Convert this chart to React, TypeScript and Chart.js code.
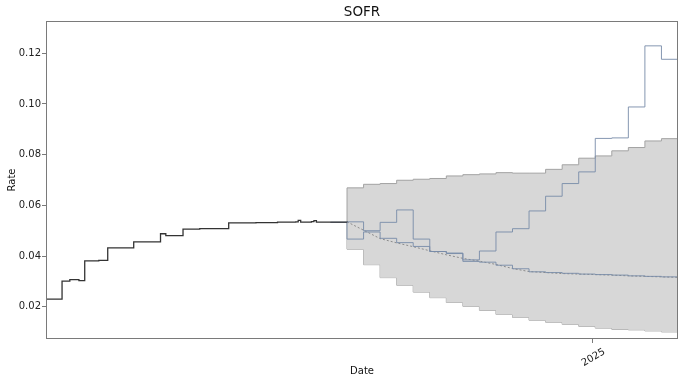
import React, { useEffect, useRef } from 'react';
import { Chart, registerables } from 'chart.js';

Chart.register(...registerables);

// x unit: months relative to the start of the forecast
const X_MIN = -18.19;
const X_MAX = 20;
const X_TICK_VALUES = [14.83];
const X_TICK_LABELS = ['2025'];
const Y_MIN = 0.0073;
const Y_MAX = 0.1327;
const Y_TICK_VALUES = [0.02, 0.04, 0.06, 0.08, 0.1, 0.12];

// historical SOFR (step changes)
const histMonths = [-18.19, -17.22, -16.75, -16.2, -15.85, -15.0, -14.46, -12.89, -11.27, -10.95, -9.91, -8.9, -7.15, -5.5, -4.2, -3.1, -2.95, -2.8, -2.15, -2.0, -1.85, 0];
const histRates = [0.023, 0.0301, 0.0307, 0.0303, 0.0381, 0.0383, 0.0432, 0.0456, 0.0488, 0.0481, 0.0506, 0.0508, 0.0531, 0.0532, 0.0534, 0.0535, 0.0541, 0.0534, 0.0536, 0.054, 0.0534, 0.0533];

// forecast: monthly segments
const forecastMonths = [0, 1, 2, 3, 4, 5, 6, 7, 8, 9, 10, 11, 12, 13, 14, 15, 16, 17, 18, 19, 20];
const bandUpper = [0.0669, 0.0683, 0.0686, 0.0699, 0.0703, 0.0706, 0.0716, 0.0721, 0.0724, 0.0729, 0.0727, 0.0727, 0.0742, 0.076, 0.0786, 0.0795, 0.0815, 0.0828, 0.0854, 0.0863];
const bandLower = [0.0427, 0.0366, 0.0315, 0.0285, 0.0258, 0.0236, 0.0217, 0.0202, 0.0186, 0.017, 0.0158, 0.0147, 0.0139, 0.0131, 0.0123, 0.0116, 0.0111, 0.0109, 0.0105, 0.0101];
const meanRates = [0.0535, 0.0502, 0.0469, 0.0452, 0.0437, 0.0421, 0.0405, 0.0391, 0.038, 0.0367, 0.0351, 0.0339, 0.0335, 0.0331, 0.0329, 0.0327, 0.0325, 0.0322, 0.032, 0.0318, 0.0316];
const pathHigh = [0.0535, 0.05, 0.0533, 0.0582, 0.0467, 0.0418, 0.0412, 0.0385, 0.042, 0.0495, 0.0508, 0.0578, 0.0636, 0.0686, 0.0732, 0.0864, 0.0866, 0.0988, 0.1229, 0.1176];
const pathLow = [0.0467, 0.0495, 0.047, 0.0453, 0.0438, 0.0418, 0.041, 0.0379, 0.0376, 0.0364, 0.035, 0.0338, 0.0335, 0.0332, 0.0329, 0.0327, 0.0325, 0.0322, 0.032, 0.0318];
const PATH_START = -1.0;
const LAST_RATE = 0.0533;

const FONT = "'DejaVu Sans', sans-serif";

function stepSeries(values: number[], lead: { x: number; y: number }) {
  const pts = [lead];
  values.forEach((v, i) => pts.push({ x: forecastMonths[i], y: v }));
  pts.push({ x: forecastMonths[values.length], y: values[values.length - 1] });
  return pts;
}

const framePlugin = {
  id: 'frame',
  afterDraw(chart: any) {
    const { ctx, chartArea: a } = chart;
    ctx.save();
    ctx.strokeStyle = '#7a7a7a';
    ctx.lineWidth = 1;
    ctx.strokeRect(Math.round(a.left) + 0.5, Math.round(a.top) + 0.5, Math.round(a.right - a.left) - 1, Math.round(a.bottom - a.top) - 1);
    ctx.restore();
  },
};

export default function App() {
  const ref = useRef<HTMLCanvasElement>(null);
  useEffect(() => {
    document.body.style.margin = '0';
    const history = histMonths.map((x, i) => ({ x, y: histRates[i] }));
    const mean = forecastMonths.map((x, i) => ({ x, y: meanRates[i] }));
    const chart = new Chart(ref.current!, {
      type: 'line',
      data: {
        datasets: [
          { data: history, borderColor: '#333333', borderWidth: 1.3, stepped: true, pointRadius: 0, fill: false },
          { data: stepSeries(pathHigh, { x: PATH_START, y: LAST_RATE }), borderColor: 'rgba(120,140,168,0.9)', borderWidth: 1, stepped: true, pointRadius: 0, fill: false },
          { data: stepSeries(pathLow, { x: PATH_START, y: LAST_RATE }), borderColor: 'rgba(120,140,168,0.9)', borderWidth: 1, stepped: true, pointRadius: 0, fill: false },
          { data: mean, borderColor: '#8c8c8c', borderWidth: 1, borderDash: [2, 2], pointRadius: 0, fill: false },
          { data: stepSeries(bandUpper, { x: -0.001, y: LAST_RATE }), borderColor: '#a3a3a3', borderWidth: 1, stepped: true, pointRadius: 0, fill: '+1', backgroundColor: '#d7d7d7' },
          { data: stepSeries(bandLower, { x: -0.001, y: LAST_RATE }), borderColor: '#a3a3a3', borderWidth: 1, stepped: true, pointRadius: 0, fill: false },
        ],
      },
      options: {
        animation: false,
        responsive: false,
        devicePixelRatio: 1,
        layout: { padding: { left: 0, right: 7, top: 0, bottom: 0 } },
        plugins: {
          legend: { display: false },
          tooltip: { enabled: false },
          title: { display: true, fullSize: false, text: 'SOFR', color: '#111', font: { family: FONT, size: 13.5, weight: 'normal' }, padding: { top: 4, bottom: 0.8 } },
        },
        scales: {
          x: {
            type: 'linear',
            min: X_MIN,
            max: X_MAX,
            afterBuildTicks: (s: any) => { s.ticks = X_TICK_VALUES.map((v) => ({ value: v })); },
            afterFit: (s: any) => { s.height = 45; },
            ticks: {
              callback: (_v: any, i: number) => X_TICK_LABELS[i],
              minRotation: 30,
              maxRotation: 30,
              autoSkip: false,
              labelOffset: 12,
              padding: 3,
              color: '#222',
              font: { family: FONT, size: 10 },
            },
            grid: { display: true, drawOnChartArea: false, drawTicks: true, tickLength: 4, color: '#7a7a7a' },
            border: { display: false },
            title: { display: true, text: 'Date', color: '#111', font: { family: FONT, size: 10 }, padding: { top: 2, bottom: 6.5 } },
          },
          y: {
            type: 'linear',
            min: Y_MIN,
            max: Y_MAX,
            afterBuildTicks: (s: any) => { s.ticks = Y_TICK_VALUES.map((v) => ({ value: v })); },
            afterFit: (s: any) => { s.width = 46; },
            ticks: {
              callback: (v: any) => Number(v).toFixed(2),
              padding: 1,
              color: '#222',
              font: { family: FONT, size: 10 },
            },
            grid: { display: true, drawOnChartArea: false, drawTicks: true, tickLength: 4, color: '#7a7a7a' },
            border: { display: false },
            title: { display: true, text: 'Rate', color: '#111', font: { family: FONT, size: 10 }, padding: { top: 6, bottom: 0 } },
          },
        },
      },
      plugins: [framePlugin],
    } as any);
    return () => chart.destroy();
  }, []);
  return (
    <div style={{ width: 685, height: 384 }}>
      <canvas ref={ref} width={685} height={384} style={{ display: 'block' }} />
    </div>
  );
}
